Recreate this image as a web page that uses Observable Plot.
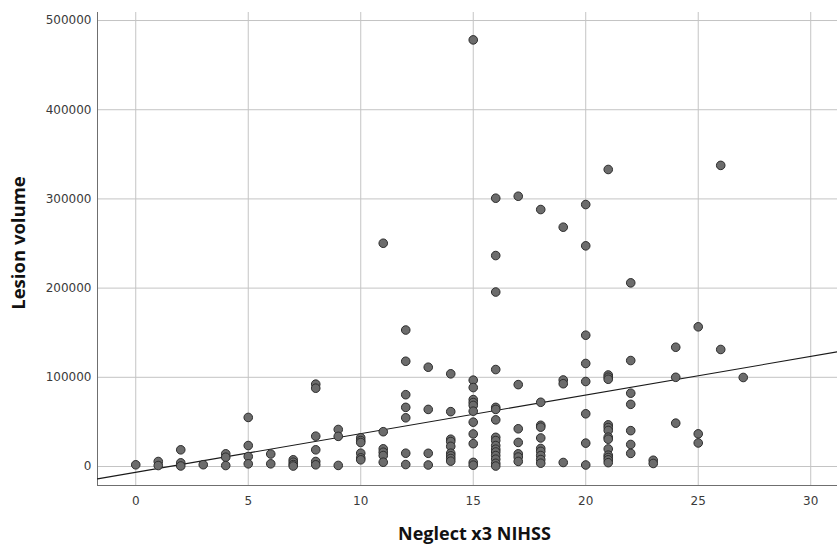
<!DOCTYPE html>
<html>
<head>
<meta charset="utf-8">
<script src="https://cdn.jsdelivr.net/npm/d3@7"></script>
<script src="https://cdn.jsdelivr.net/npm/@observablehq/plot@0.6"></script>
<style>
  html, body { margin: 0; padding: 0; background: #fff; }
  #chart svg { display: block; }
</style>
</head>
<body>
<div id="chart"></div>
<script>
// ---- Data (Neglect x3 NIHSS vs Lesion volume) ----
const neglectScore = [
  0,
  1, 1,
  2, 2, 2,
  3,
  4, 4, 4,
  5, 5, 5, 5,
  6, 6,
  7, 7, 7, 7,
  8, 8, 8, 8, 8, 8,
  9, 9, 9,
  10, 10, 10, 10, 10, 10,
  11, 11, 11, 11, 11, 11,
  12, 12, 12, 12, 12, 12, 12,
  13, 13, 13, 13,
  14, 14, 14, 14, 14, 14, 14, 14, 14,
  15, 15, 15, 15, 15, 15, 15, 15, 15, 15, 15, 15,
  16, 16, 16, 16, 16, 16, 16, 16, 16, 16, 16, 16, 16, 16, 16, 16,
  17, 17, 17, 17, 17, 17, 17,
  18, 18, 18, 18, 18, 18, 18, 18, 18, 18,
  19, 19, 19, 19,
  20, 20, 20, 20, 20, 20, 20, 20,
  21, 21, 21, 21, 21, 21, 21, 21, 21, 21, 21, 21, 21, 21,
  22, 22, 22, 22, 22, 22, 22,
  23, 23,
  24, 24, 24,
  25, 25, 25,
  26, 26,
  27
];
const lesionVolume = [
  1900,
  5600, 1100,
  18700, 4100, 600,
  2000,
  14200, 10400, 1100,
  55000, 23500, 11200, 3000,
  14000, 3000,
  7500, 4800, 2200, 500,
  92300, 87800, 34000, 18700, 5600, 1900,
  41500, 33800, 1200,
  32200, 29100, 26900, 14900, 9700, 7500,
  250300, 39000, 19800, 16000, 12300, 4800,
  153000, 118000, 80500, 66300, 54600, 14900, 2200,
  111300, 64000, 14800, 1700,
  103900, 61500, 30600, 28000, 22600, 14900, 12000, 9000, 6000,
  478300, 96800, 88500, 75000, 71700, 68500, 62000, 49700, 36500, 25600, 4600, 1500,
  300800, 236500, 195600, 108700, 66300, 64000, 52300, 32700, 29100, 23500, 19400, 16300, 12300, 8200, 3600, 500,
  303000, 91800, 42300, 27000, 14200, 10600, 5700,
  288100, 72000, 46200, 44100, 32000, 20200, 17000, 12300, 7800, 3700,
  268300, 97000, 92800, 4500,
  293700, 247400, 147200, 115500, 95300, 59100, 26200, 1700,
  333000, 102600, 100100, 97800, 46700, 43700, 40400, 32900, 30600, 19700, 12700, 10100, 7500, 4300,
  205900, 118800, 82200, 69700, 40200, 24700, 14700,
  7000, 3400,
  133700, 100000, 48600,
  156600, 36600, 26400,
  337600, 131200,
  99800
];
// Fit line (linear)
const fitIntercept = -6500;
const fitSlope = 4330;

const xTicks = [0, 5, 10, 15, 20, 25, 30];
const yTicks = [0, 100000, 200000, 300000, 400000, 500000];
const xLabel = "Neglect x3 NIHSS";
const yLabel = "Lesion volume";

// ---- Build ----
const points = neglectScore.map((x, i) => ({x, y: lesionVolume[i]}));
const xDomain = [-1.7, 31.19];
const yDomain = [-21300, 509000];
const fit = xDomain.map(x => ({x, y: fitIntercept + fitSlope * x}));

const tickFont = "DejaVu Sans, sans-serif";
const titleFont = "'Open Sans', sans-serif";

const chart = Plot.plot({
  width: 837,
  height: 547,
  marginLeft: 97,
  marginRight: 0,
  marginTop: 12,
  marginBottom: 62,
  style: {background: "#fff", fontFamily: tickFont},
  x: {domain: xDomain, label: null},
  y: {domain: yDomain, label: null},
  marks: [
    Plot.gridX(xTicks, {stroke: "#c4c4c4", strokeOpacity: 1, strokeWidth: 1}),
    Plot.gridY(yTicks, {stroke: "#c4c4c4", strokeOpacity: 1, strokeWidth: 1}),
    Plot.axisX(xTicks, {tickSize: 0, tickPadding: 11, fontSize: 12, fill: "#3a3a3a", label: null, tickFormat: d => String(d)}),
    Plot.axisY(yTicks, {tickSize: 0, tickPadding: 6, fontSize: 12, fill: "#3a3a3a", label: null, tickFormat: d => String(d)}),
    Plot.ruleX([xDomain[0]], {stroke: "#6f6f6f", strokeWidth: 1}),
    Plot.ruleY([yDomain[0]], {stroke: "#6f6f6f", strokeWidth: 1}),
    Plot.line(fit, {x: "x", y: "y", stroke: "#1a1a1a", strokeWidth: 1.1, clip: true}),
    Plot.dot(points, {x: "x", y: "y", r: 4.3, fill: "#6c6c6c", stroke: "#2c2c2c", strokeWidth: 1}),
    Plot.text([xLabel], {frameAnchor: "bottom", textAnchor: "middle", dx: 7, dy: 54, text: d => d, fontFamily: titleFont, fontWeight: "bold", fontSize: 18, fill: "#111"}),
    Plot.text([yLabel], {frameAnchor: "left", textAnchor: "middle", dx: -78, dy: -6, rotate: -90, text: d => d, fontFamily: titleFont, fontWeight: "bold", fontSize: 18.5, fill: "#111"})
  ]
});
document.getElementById("chart").appendChild(chart);
</script>
</body>
</html>
